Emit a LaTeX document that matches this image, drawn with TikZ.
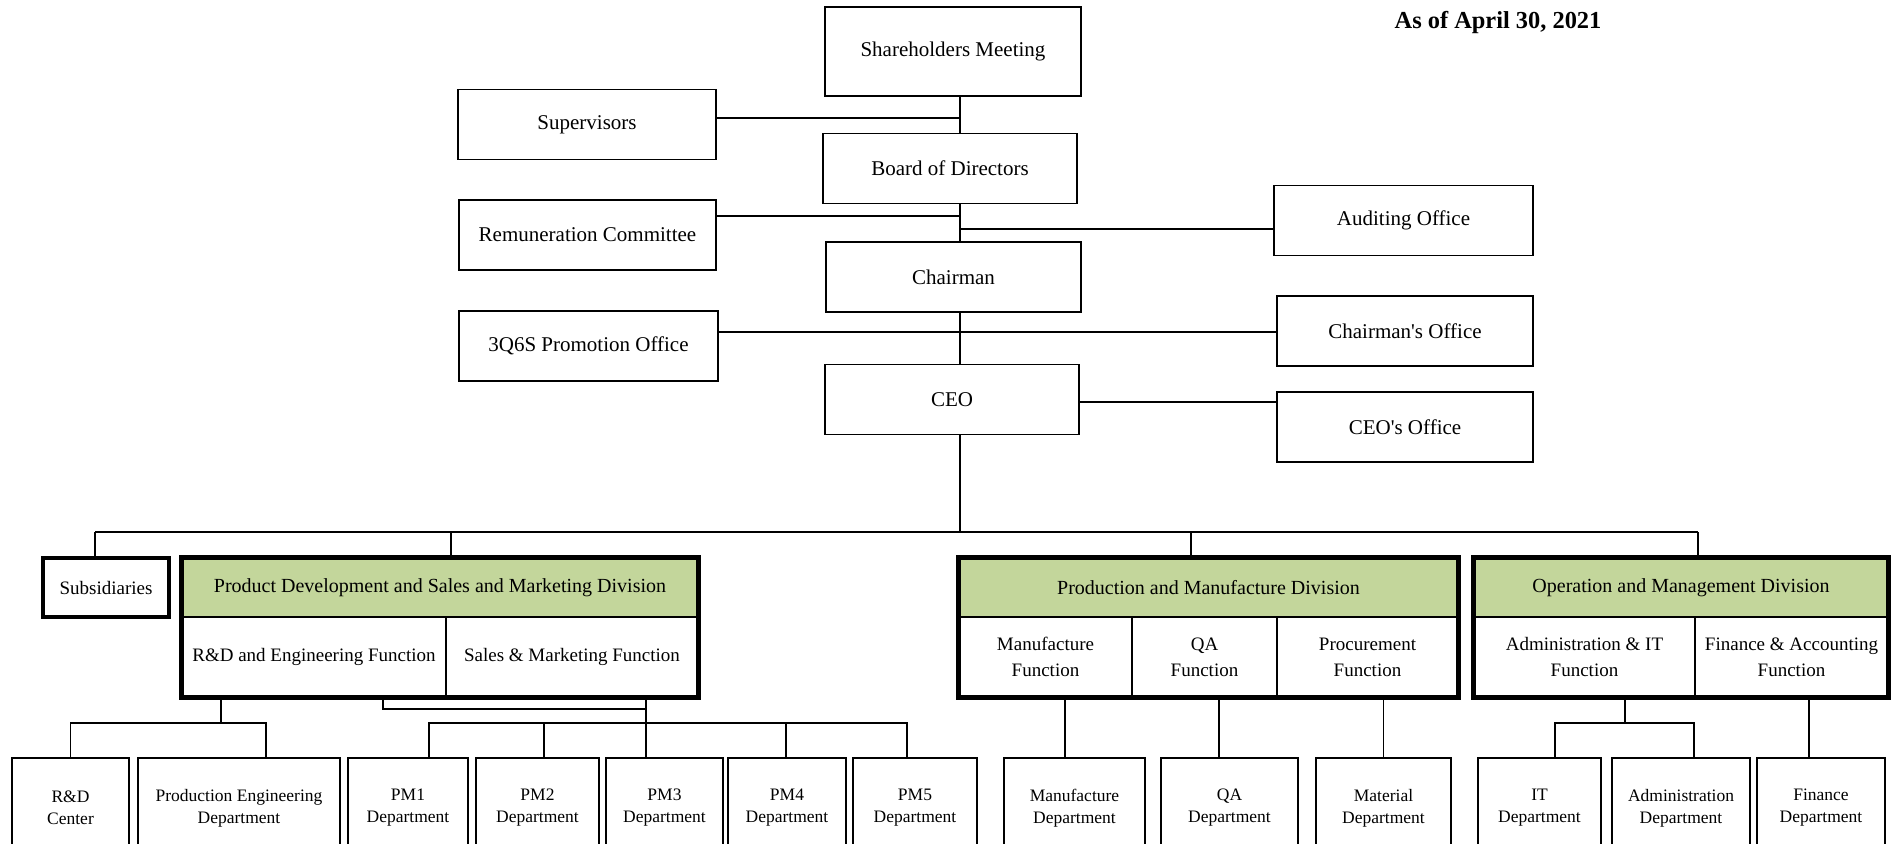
\documentclass[tikz,border=0pt]{standalone}
\usepackage{fontspec}
\setmainfont{Liberation Serif}
\definecolor{divgreen}{RGB}{195,214,155}
\tikzset{
	box/.style={draw, line width=0.6pt, inner sep=0pt, align=center, font=\fontsize{10.5}{13}\selectfont},
	topbox/.style={box, minimum height=35pt},
	divhead/.style={box, fill=divgreen, minimum height=29.5pt, font=\fontsize{10}{12}\selectfont},
	fncell/.style={box, minimum height=40pt, font=\fontsize{9.5}{13}\selectfont},
	dept/.style={box, minimum height=50pt, font=\fontsize{8.75}{11}\selectfont},
	divframe/.style={draw, line width=2.25pt},
	conn/.style={draw, line width=0.6pt},
}
\begin{document}
\begin{tikzpicture}[x=0.5pt, y=-0.5pt]
		\useasboundingbox (0,0) rectangle (1892,843);
		\node[font=\bfseries\fontsize{12.2}{14}\selectfont] 		(asof) 		at (1498,22) 	{As of April 30, 2021};
		\node[box, minimum width=128pt, minimum height=44.5pt] 	(share) 	at (953,51.5) 	{Shareholders Meeting};
		\node[topbox, minimum width=129pt] 		(superv) 	at (587,124.5) 	{Supervisors};
		\node[topbox, minimum width=127pt] 		(board) 	at (950,168.5) 	{Board of Directors};
		\node[topbox, minimum width=128.5pt] 	(remun) 	at (587.5,235) 	{Remuneration Committee};
		\node[topbox, minimum width=129.5pt] 	(audit) 	at (1403.5,220.5) {Auditing Office};
		\node[topbox, minimum width=127.5pt] 	(chair) 	at (953.5,277) 	{Chairman};
		\node[topbox, minimum width=129.5pt] 	(q6s) 		at (588.5,346) 	{3Q6S Promotion Office};
		\node[topbox, minimum width=128pt] 		(chairoff) 	at (1405,331) 	{Chairman\textquotesingle s Office};
		\node[topbox, minimum width=127pt] 		(ceo) 		at (952,399.5) 	{CEO};
		\node[topbox, minimum width=128pt] 		(ceooff) 	at (1405,427) 	{CEO\textquotesingle s Office};
		
		\node[box, line width=2.25pt, minimum width=63pt, minimum height=29.5pt, font=\fontsize{9.5}{12}\selectfont] (subs) at (106,587.5) {Subsidiaries};
		
		\node[divhead, minimum width=258pt] 	(pdHead) 	at (440,587.5) 	{Product Development and Sales and Marketing Division};
		\node[fncell, minimum width=132pt] 		(pdRD) 		at (314,657) 	{R\&D and Engineering Function};
		\node[fncell, minimum width=126pt] 		(pdSM) 		at (572,657) 	{Sales \& Marketing Function};
		
		\node[divhead, minimum width=249.5pt] 	(pmHead) 	at (1208.5,587.5) {Production and Manufacture Division};
		\node[fncell, minimum width=86.5pt] 	(pmMfg) 	at (1045.5,657) {Manufacture\\Function};
		\node[fncell, minimum width=72.5pt] 	(pmQA) 		at (1204.5,657) {QA\\Function};
		\node[fncell, minimum width=90.5pt] 	(pmProc) 	at (1367.5,657) {Procurement\\Function};
		
		\node[divhead, minimum width=207pt] 	(omHead) 	at (1681,587.5) {Operation and Management Division};
		\node[fncell, minimum width=110.5pt] 	(omAdm) 	at (1584.5,657) {Administration \& IT\\Function};
		\node[fncell, minimum width=96.5pt] 	(omFin) 	at (1791.5,657) {Finance \& Accounting\\Function};
		
		\draw[divframe] (pdHead.north west) rectangle (pdSM.south east);
		\draw[divframe] (pmHead.north west) rectangle (pmProc.south east);
		\draw[divframe] (omHead.north west) rectangle (omFin.south east);
		
		\node[dept, minimum width=58.5pt] 	(rdc) 	at (70.5,808) 	{R\&D\\Center};
		\node[dept, minimum width=101pt] 	(pe) 	at (239,808) 	{Production Engineering\\Department};
		\node[dept, minimum width=60pt] 	(pm1) 	at (408,808) 	{PM1\\Department};
		\node[dept, minimum width=61.5pt] 	(pm2) 	at (537.5,808) 	{PM2\\Department};
		\node[dept, minimum width=58.5pt] 	(pm3) 	at (664.5,808) 	{PM3\\Department};
		\node[dept, minimum width=59pt] 	(pm4) 	at (787,808) 	{PM4\\Department};
		\node[dept, minimum width=62pt] 	(pm5) 	at (915,808) 	{PM5\\Department};
		\node[dept, minimum width=70.5pt] 	(mfgd) 	at (1074.5,808) {Manufacture\\Department};
		\node[dept, minimum width=68.5pt] 	(qad) 	at (1229.5,808) {QA\\Department};
		\node[dept, minimum width=67.5pt] 	(matd) 	at (1383.5,808) {Material\\Department};
		\node[dept, minimum width=61.5pt] 	(itd) 	at (1539.5,808) {IT\\Department};
		\node[dept, minimum width=69pt] 	(admd) 	at (1681,808) 	{Administration\\Department};
		\node[dept, minimum width=64pt] 	(find) 	at (1821,808) 	{Finance\\Department};
		
		\coordinate (bus) 	at (960,532);
		\coordinate (busL) 	at (95,532);
		\coordinate (busR) 	at (1698,532);
		\coordinate (dPD) 	at (451,532);
		\coordinate (dPM) 	at (1191,532);
		
		\draw[conn] (share.south -| bus) -- (board.north -| bus);
		\draw[conn] ([yshift=3.25pt]superv.east) -- ([yshift=3.25pt]superv.east -| bus);
		\draw[conn] (board.south -| bus) -- (chair.north -| bus);
		\draw[conn] ([yshift=9.5pt]remun.east) -- ([yshift=9.5pt]remun.east -| bus);
		\draw[conn] ([yshift=-4.25pt]audit.west) -- ([yshift=-4.25pt]audit.west -| bus);
		\draw[conn] (chair.south -| bus) -- (ceo.north -| bus);
		\draw[conn] ([yshift=7pt]q6s.east) -- ([yshift=7pt]q6s.east -| chairoff.west);
		\draw[conn] ([yshift=-1.25pt]ceo.east) -- ([yshift=-1.25pt]ceo.east -| ceooff.west);
		\draw[conn] (ceo.south -| bus) -- (bus);
		
		\draw[conn] (busL) -- (busR);
		\draw[conn] (busL) -- (subs.north -| busL);
		\draw[conn] (dPD) -- (pdHead.north -| dPD);
		\draw[conn] (dPM) -- (pmHead.north -| dPM);
		\draw[conn] (busR) -- (omHead.north -| busR);
		
		\coordinate (jRD) 	at (221,723);
		\coordinate (jPE) 	at (266,723);
		\coordinate (jSM) 	at (383,709);
		\coordinate (jPM3) 	at (646,709);
		\coordinate (jPM1) 	at (429,723);
		\coordinate (jPM2) 	at (544,723);
		\coordinate (jPM4) 	at (786,723);
		\coordinate (jPM5) 	at (907,723);
		\coordinate (jMfg) 	at (1065,723);
		\coordinate (jQA) 	at (1219,723);
		\coordinate (jAdm) 	at (1625,723);
		\coordinate (jIT) 	at (1555,723);
		\coordinate (jAD) 	at (1694,723);
		\coordinate (jFin) 	at (1809,723);
		
		\draw[conn] (pdRD.south -| jRD) -- (jRD);
		\draw[conn] (rdc.north) |- (jPE) -- (pe.north -| jPE);
		\draw[conn] (pdSM.south -| jSM) -- (jSM) -- (jPM3);
		\draw[conn] (pdSM.south -| jPM3) -- (pm3.north -| jPM3);
		\draw[conn] (pm1.north -| jPM1) -- (jPM1) -- (jPM5) -- (pm5.north -| jPM5);
		\draw[conn] (jPM2) -- (pm2.north -| jPM2);
		\draw[conn] (jPM4) -- (pm4.north -| jPM4);
		\draw[conn] (pmMfg.south -| jMfg) -- (mfgd.north -| jMfg);
		\draw[conn] (pmQA.south -| jQA) -- (qad.north -| jQA);
		\draw[conn] (pmProc.south -| matd.north) -- (matd.north);
		\draw[conn] (omAdm.south -| jAdm) -- (jAdm);
		\draw[conn] (itd.north -| jIT) -- (jIT) -- (jAD) -- (admd.north -| jAD);
		\draw[conn] (omFin.south -| jFin) -- (find.north -| jFin);
\end{tikzpicture}
\end{document}
